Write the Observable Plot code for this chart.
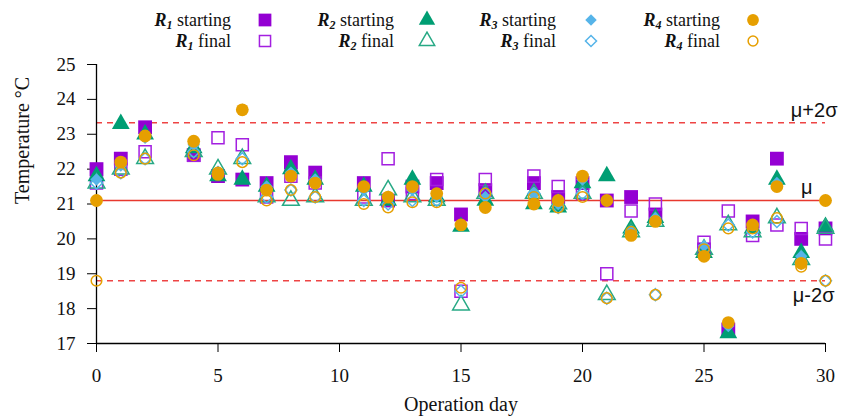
<!DOCTYPE html>
<html>
<head>
<meta charset="utf-8">
<script src="https://cdn.jsdelivr.net/npm/d3@7"></script>
<script src="https://cdn.jsdelivr.net/npm/@observablehq/plot@0.6"></script>
<style>
  html, body { margin: 0; padding: 0; background: #fff; }
  #wrap { position: relative; width: 842px; }
  #legend { position: relative; width: 842px; height: 52px; font-family: "Liberation Serif", "Times New Roman", serif; font-size: 18px; color: #111; }
  .lt { position: absolute; line-height: 20px; white-space: nowrap; text-align: right; }
  .lt sub { font-size: 12px; vertical-align: -3px; line-height: 0; }
  .lm { position: absolute; width: 20px; height: 20px; }
</style>
</head>
<body>
<div id="wrap">
  <div id="legend"></div>
  <div id="chart"></div>
</div>
<script>
// ---- data ----
const days = [0,1,2,4,5,6,7,8,9,11,12,13,14,15,16,18,19,20,21,22,23,25,26,27,28,29,30];
const r1Start = [22.0,22.3,23.2,22.4,21.8,21.7,21.6,22.2,21.9,21.6,21.1,21.5,21.6,20.7,21.4,21.6,21.2,21.6,21.1,21.2,20.7,19.7,17.4,20.5,22.3,20.0,20.3];
const r1Final = [21.6,22.0,22.5,22.4,22.9,22.7,21.2,21.8,21.6,21.2,22.3,21.3,21.7,18.5,21.7,21.8,21.5,21.3,19.0,20.8,21.0,19.9,20.8,20.1,20.4,20.3,20.0];
const r2Start = [21.8,23.3,23.0,22.6,21.8,21.7,21.5,22.0,21.7,21.5,21.1,21.7,21.2,20.35,21.1,21.0,20.9,21.6,21.8,20.3,20.6,19.6,17.3,20.3,21.7,19.6,20.35];
const r2Final = [21.6,22.0,22.3,22.5,22.0,22.3,21.2,21.1,21.2,21.1,21.4,21.2,21.1,18.1,21.3,21.3,21.0,21.3,18.4,20.2,20.5,19.7,20.4,20.2,20.6,19.4,20.3];
const r3Start = [21.7,22.1,22.9,22.7,21.9,23.7,21.5,21.9,21.7,21.4,21.2,21.4,21.2,20.4,21.2,21.3,21.0,21.7,21.1,20.2,20.6,19.8,17.5,20.4,21.6,19.5,21.1];
const r3Final = [21.6,21.9,22.3,22.5,21.9,22.3,21.2,21.4,21.2,21.1,21.0,21.1,21.1,18.5,21.3,21.3,20.9,21.3,18.3,20.2,18.4,19.7,20.4,20.2,20.5,19.3,18.8];
const r4Start = [21.1,22.2,22.95,22.8,21.85,23.7,21.4,21.8,21.6,21.5,21.2,21.5,21.3,20.4,20.9,21.0,21.1,21.8,21.1,20.1,20.5,19.5,17.6,20.4,21.5,19.3,21.1];
const r4Final = [18.8,21.9,22.3,22.4,21.9,22.2,21.1,21.4,21.2,21.0,20.9,21.05,21.05,18.6,21.3,21.2,20.9,21.2,18.3,20.2,18.4,19.7,20.3,20.3,20.6,19.2,18.8];
const mu = 21.1;
const muPlus2s = 23.33;
const muMinus2s = 18.8;
const xTicks = [0,5,10,15,20,25,30];
const yTicks = [17,18,19,20,21,22,23,24,25];

// ---- series styles ----
const series = [
  {n:"1", kind:"starting", vals:r1Start, symbol:"square",  r:7.8, fill:"#9400D3", stroke:"none", col:0, row:0},
  {n:"1", kind:"final",    vals:r1Final, symbol:"square",  r:6.8, fill:"none", stroke:"#a31fe0", col:0, row:1},
  {n:"2", kind:"starting", vals:r2Start, symbol:"triangle",r:6.6, fill:"#009E73", stroke:"none", col:1, row:0},
  {n:"2", kind:"final",    vals:r2Final, symbol:"triangle",r:6.2, fill:"none", stroke:"#27a985", col:1, row:1},
  {n:"3", kind:"starting", vals:r3Start, symbol:"diamond2",r:5.6, fill:"#56B4E9", stroke:"none", col:2, row:0},
  {n:"3", kind:"final",    vals:r3Final, symbol:"diamond2",r:5.4, fill:"none", stroke:"#56B4E9", col:2, row:1},
  {n:"4", kind:"starting", vals:r4Start, symbol:"circle",  r:6.4, fill:"#E69F00", stroke:"none", col:3, row:0},
  {n:"4", kind:"final",    vals:r4Final, symbol:"circle",  r:5.3, fill:"none", stroke:"#E69F00", col:3, row:1}
];

// ---- legend (HTML) ----
const legendTextRight = [231, 394, 556, 720];
const legendMarkerX = [265, 427, 591, 753];
const legendRowY = [20, 41];
const symTypes = {square: d3.symbolSquare, triangle: d3.symbolTriangle, diamond2: d3.symbolDiamond2, circle: d3.symbolCircle};
const legend = document.getElementById("legend");
for (const s of series) {
  const t = document.createElement("div");
  t.className = "lt";
  t.style.right = (842 - legendTextRight[s.col]) + "px";
  t.style.top = (legendRowY[s.row] - 10) + "px";
  t.innerHTML = `<b><i>R<sub>${s.n}</sub></i></b> ${s.kind}`;
  legend.appendChild(t);
  const ns = "http://www.w3.org/2000/svg";
  const svg = document.createElementNS(ns, "svg");
  svg.setAttribute("class", "lm");
  svg.setAttribute("viewBox", "-10 -10 20 20");
  svg.style.left = (legendMarkerX[s.col] - 10) + "px";
  svg.style.top = (legendRowY[s.row] - 10) + "px";
  const p = document.createElementNS(ns, "path");
  p.setAttribute("d", d3.symbol(symTypes[s.symbol], Math.PI * s.r * s.r * 0.85)());
  p.setAttribute("fill", s.fill);
  p.setAttribute("stroke", s.stroke);
  p.setAttribute("stroke-width", s.fill === "none" ? 1.5 : 0);
  svg.appendChild(p);
  legend.appendChild(svg);
}

// ---- chart ----
const serif = "Liberation Serif, Times New Roman, serif";
const sans = "Liberation Sans, Arial, sans-serif";
const marks = [
  Plot.ruleY([muPlus2s, muMinus2s], {stroke: "#ee4444", strokeWidth: 1.3, strokeDasharray: "6,5"}),
  Plot.ruleY([mu], {stroke: "#e8382e", strokeWidth: 1.5}),
  Plot.axisX({ticks: xTicks, tickSize: 9, tickPadding: 16, fontSize: 19, fontFamily: serif, label: null, stroke: "#000"}),
  Plot.axisY({ticks: yTicks, tickSize: 9, tickPadding: 12, fontSize: 19, fontFamily: serif, label: null, stroke: "#000"}),
  Plot.ruleX([0], {stroke: "#000", strokeWidth: 1.3}),
  Plot.ruleY([17], {stroke: "#000", strokeWidth: 1.3}),
  Plot.text(["Operation day"], {text: d => d, frameAnchor: "bottom", dy: 67, fontSize: 20, fontFamily: serif, fill: "#111"}),
  Plot.text(["Temperature °C"], {text: d => d, frameAnchor: "left", dx: -74, rotate: -90, fontSize: 20, fontFamily: serif, fill: "#111"}),
  Plot.text([muPlus2s], {y: d => d, text: () => "μ+2σ", frameAnchor: "right", textAnchor: "end", dx: 12, dy: -12, fontSize: 20, fontFamily: sans, fill: "#111"}),
  Plot.text([mu], {y: d => d, text: () => "μ", frameAnchor: "right", textAnchor: "end", dx: -13, dy: -13, fontSize: 20, fontFamily: sans, fill: "#111"}),
  Plot.text([muMinus2s], {y: d => d, text: () => "μ-2σ", frameAnchor: "right", textAnchor: "end", dx: 9, dy: 15, fontSize: 20, fontFamily: sans, fill: "#111"})
];
for (const s of series) {
  const data = days.map((d, i) => ({day: d, temp: s.vals[i]}));
  marks.push(Plot.dot(data, {
    x: "day", y: "temp", symbol: s.symbol, r: s.r,
    fill: s.fill, stroke: s.stroke, strokeWidth: s.fill === "none" ? 1.5 : 0
  }));
}
const chart = Plot.plot({
  width: 842,
  height: 368,
  marginLeft: 96,
  marginRight: 17,
  marginTop: 12,
  marginBottom: 77,
  style: {fontFamily: serif, background: "#fff", color: "#111", overflow: "visible"},
  x: {domain: [0, 30]},
  y: {domain: [17, 25]},
  marks
});
document.getElementById("chart").appendChild(chart);
</script>
</body>
</html>
